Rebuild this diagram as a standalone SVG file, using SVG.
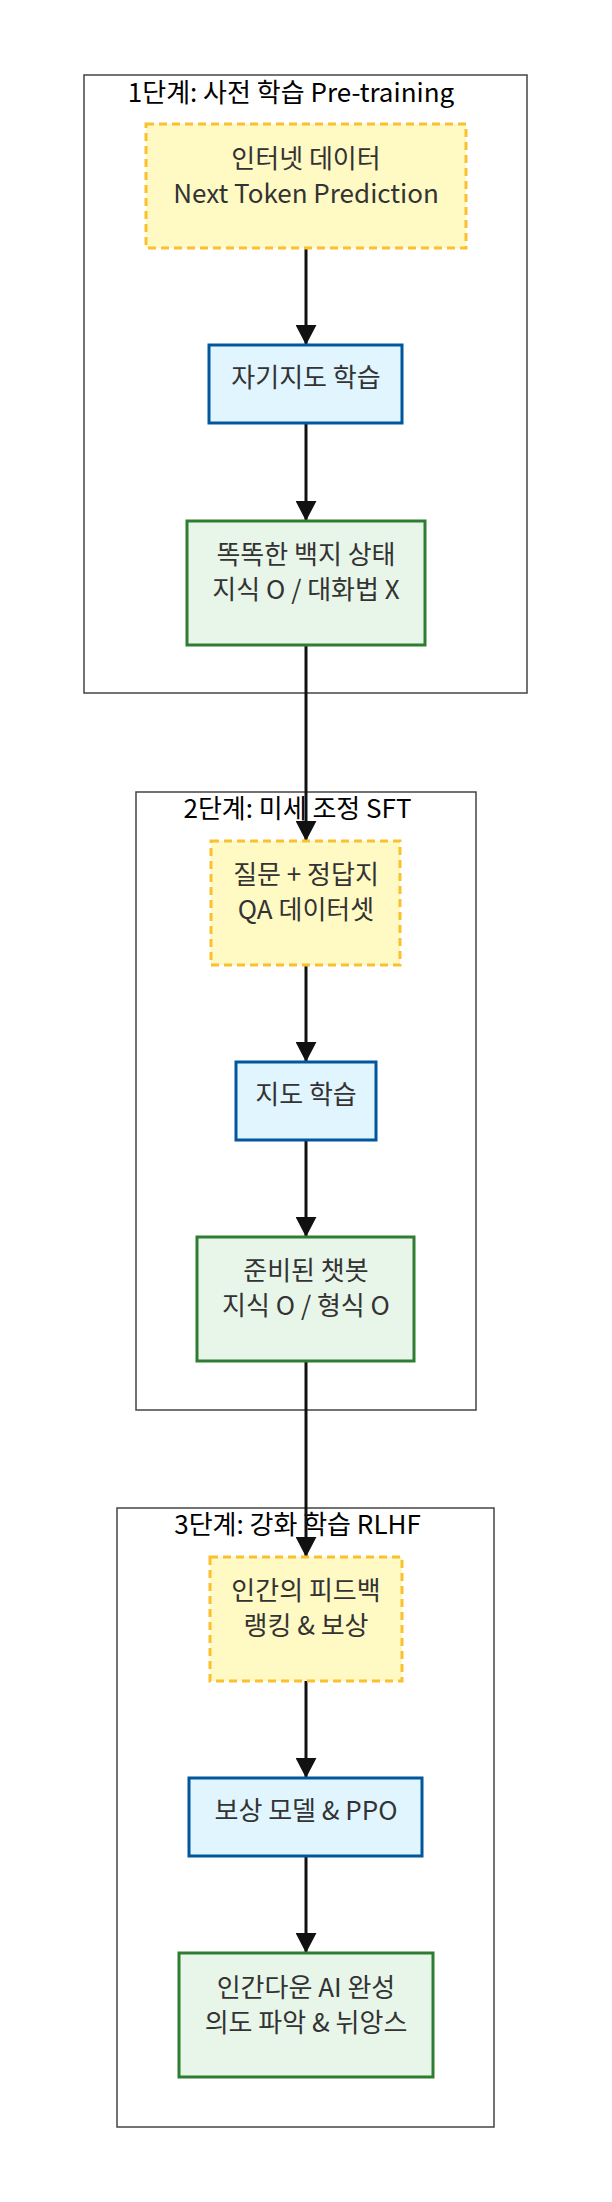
<svg xmlns="http://www.w3.org/2000/svg" width="612" height="2202" viewBox="0 0 612 2202">
<defs>
<marker id="arr" viewBox="0 0 10 10" refX="10" refY="5" markerWidth="6.7" markerHeight="7" markerUnits="strokeWidth" orient="auto" preserveAspectRatio="none">
<path d="M0,0 L10,5 L0,10 z" fill="#111"/>
</marker>
<style>
text{font-family:"Noto Sans CJK KR","Noto Sans",sans-serif;text-anchor:middle;font-size:26px}
.cl{fill:#fff;stroke:#444;stroke-width:1.5}
.ct{fill:#000}
.nt{fill:#333}
.y{fill:#fff9c4;stroke:#fbc02d;stroke-width:3;stroke-dasharray:8 5}
.b{fill:#e1f5fe;stroke:#01579b;stroke-width:3}
.g{fill:#e8f5e9;stroke:#2e7d32;stroke-width:3}
.e{fill:none;stroke:#111;stroke-width:3}
</style>
</defs>
<rect width="612" height="2202" fill="#fff"/>
<g id="cluster1">
<rect class="cl" x="84" y="75" width="443" height="618"/>
<text class="ct" x="291" y="102">1단계: 사전 학습 Pre-training</text>
</g>
<g id="cluster2">
<rect class="cl" x="136" y="792" width="340" height="618"/>
<text class="ct" x="297.5" y="818">2단계: 미세 조정 SFT</text>
</g>
<g id="cluster3">
<rect class="cl" x="117" y="1508" width="377" height="619"/>
<text class="ct" x="297.5" y="1534">3단계: 강화 학습 RLHF</text>
</g>
<g id="edges">
<line class="e" x1="306" y1="248" x2="306" y2="345" marker-end="url(#arr)"/>
<line class="e" x1="306" y1="423" x2="306" y2="521" marker-end="url(#arr)"/>
<line class="e" x1="306" y1="645" x2="306" y2="841" marker-end="url(#arr)"/>
<line class="e" x1="306" y1="965" x2="306" y2="1062" marker-end="url(#arr)"/>
<line class="e" x1="306" y1="1140" x2="306" y2="1237" marker-end="url(#arr)"/>
<line class="e" x1="306" y1="1361" x2="306" y2="1557" marker-end="url(#arr)"/>
<line class="e" x1="306" y1="1681" x2="306" y2="1778" marker-end="url(#arr)"/>
<line class="e" x1="306" y1="1856" x2="306" y2="1953" marker-end="url(#arr)"/>
</g>
<g id="n1">
<rect class="y" x="146" y="124" width="320" height="124"/>
<text class="nt" x="306" y="168">인터넷 데이터</text>
<text class="nt" x="306" y="203">Next Token Prediction</text>
</g>
<g id="n2">
<rect class="b" x="209" y="345" width="193" height="78"/>
<text class="nt" x="306" y="387">자기지도 학습</text>
</g>
<g id="n3">
<rect class="g" x="187" y="521" width="238" height="124"/>
<text class="nt" x="306" y="564">똑똑한 백지 상태</text>
<text class="nt" x="306" y="599">지식 O / 대화법 X</text>
</g>
<g id="n4">
<rect class="y" x="211" y="841" width="189" height="124"/>
<text class="nt" x="306" y="884">질문 + 정답지</text>
<text class="nt" x="306" y="919">QA 데이터셋</text>
</g>
<g id="n5">
<rect class="b" x="236" y="1062" width="140" height="78"/>
<text class="nt" x="306" y="1104">지도 학습</text>
</g>
<g id="n6">
<rect class="g" x="197" y="1237" width="217" height="124"/>
<text class="nt" x="306" y="1280">준비된 챗봇</text>
<text class="nt" x="306" y="1315">지식 O / 형식 O</text>
</g>
<g id="n7">
<rect class="y" x="210" y="1557" width="192" height="124"/>
<text class="nt" x="306" y="1600">인간의 피드백</text>
<text class="nt" x="306" y="1635">랭킹 &amp; 보상</text>
</g>
<g id="n8">
<rect class="b" x="189" y="1778" width="233" height="78"/>
<text class="nt" x="306" y="1820">보상 모델 &amp; PPO</text>
</g>
<g id="n9">
<rect class="g" x="179" y="1953" width="254" height="124"/>
<text class="nt" x="306" y="1997">인간다운 AI 완성</text>
<text class="nt" x="306" y="2032">의도 파악 &amp; 뉘앙스</text>
</g>
</svg>
